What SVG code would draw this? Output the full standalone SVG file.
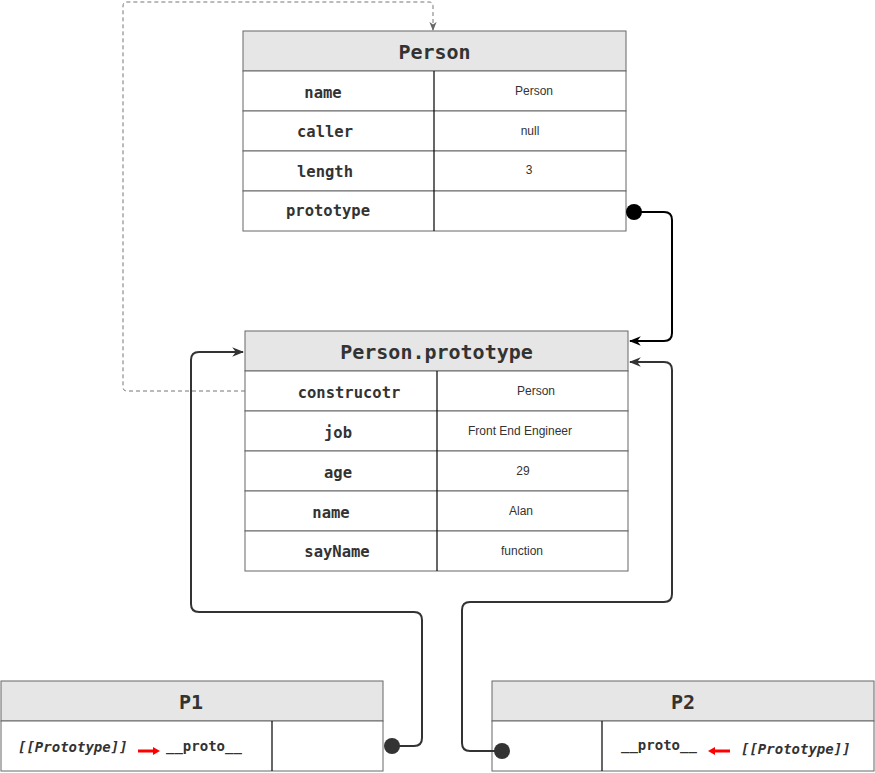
<svg xmlns="http://www.w3.org/2000/svg" width="875" height="773" viewBox="0 0 875 773">
<defs>
<style>
.hdr{fill:#e6e6e6;stroke:#666;stroke-width:1}
.cell{fill:#fff;stroke:#666;stroke-width:1}
.div{stroke:#000;stroke-width:1.2}
.title{font-family:"DejaVu Sans Mono",monospace;font-weight:bold;font-size:20px;fill:#333;text-anchor:middle}
.key{font-family:"DejaVu Sans Mono",monospace;font-weight:bold;font-size:15.5px;fill:#333;text-anchor:middle}
.val{font-family:"Liberation Sans",Arial,sans-serif;font-size:12px;fill:#333;text-anchor:middle}
.it{font-family:"DejaVu Sans Mono",monospace;font-weight:bold;font-style:italic;font-size:14px;fill:#333}
.pr{font-family:"DejaVu Sans Mono",monospace;font-weight:bold;font-size:14px;fill:#333}
.conn{fill:none;stroke:#333;stroke-width:2}
</style>
<marker id="arr" viewBox="0 0 10 10" refX="9" refY="5" markerWidth="6" markerHeight="6" orient="auto" markerUnits="strokeWidth">
<path d="M0,1 L10,5 L0,9 L3,5 z" fill="#333"/>
</marker>
<marker id="arrB" viewBox="0 0 10 10" refX="9" refY="5" markerWidth="6" markerHeight="6" orient="auto" markerUnits="strokeWidth">
<path d="M0,1 L10,5 L0,9 L3,5 z" fill="#000"/>
</marker>
<marker id="arrD" viewBox="0 0 10 10" refX="9" refY="5" markerWidth="9" markerHeight="9" orient="auto" markerUnits="strokeWidth">
<path d="M0,1 L10,5 L0,9 L3,5 z" fill="#666"/>
</marker>
</defs>

<g id="person">
<rect class="hdr" x="243" y="31" width="383" height="40"/>
<rect class="cell" x="243" y="71" width="383" height="40"/>
<rect class="cell" x="243" y="111" width="383" height="40"/>
<rect class="cell" x="243" y="151" width="383" height="40"/>
<rect class="cell" x="243" y="191" width="383" height="40"/>
<line class="div" x1="434" y1="71" x2="434" y2="231"/>
<text class="title" x="434.5" y="59">Person</text>
<text class="key" x="323" y="98">name</text>
<text class="key" x="325" y="137">caller</text>
<text class="key" x="325" y="177">length</text>
<text class="key" x="328" y="216">prototype</text>
<text class="val" x="534" y="95">Person</text>
<text class="val" x="530" y="135">null</text>
<text class="val" x="529" y="174">3</text>
</g>

<g id="person-prototype">
<rect class="hdr" x="245" y="331" width="383" height="40"/>
<rect class="cell" x="245" y="371" width="383" height="40"/>
<rect class="cell" x="245" y="411" width="383" height="40"/>
<rect class="cell" x="245" y="451" width="383" height="40"/>
<rect class="cell" x="245" y="491" width="383" height="40"/>
<rect class="cell" x="245" y="531" width="383" height="40"/>
<line class="div" x1="437" y1="371" x2="437" y2="571"/>
<text class="title" x="436.5" y="359">Person.prototype</text>
<text class="key" x="349" y="398">construcotr</text>
<text class="key" x="338" y="438">job</text>
<text class="key" x="338" y="478">age</text>
<text class="key" x="331" y="518">name</text>
<text class="key" x="337" y="557">sayName</text>
<text class="val" x="536" y="395">Person</text>
<text class="val" x="520" y="435">Front End Engineer</text>
<text class="val" x="523" y="475">29</text>
<text class="val" x="521" y="515">Alan</text>
<text class="val" x="522" y="555">function</text>
</g>

<g id="p1">
<rect class="hdr" x="1" y="681" width="382" height="40"/>
<rect class="cell" x="1" y="721" width="382" height="50"/>
<line class="div" x1="272" y1="721" x2="272" y2="771"/>
<text class="title" x="191" y="709">P1</text>
<text class="it" x="18" y="752">[[Prototype]]</text>
<line x1="138" y1="751" x2="154" y2="751" stroke="#f00" stroke-width="3"/>
<path d="M153,747 L160,751 L153,755 z" fill="#f00"/>
<text class="pr" x="166" y="751">__proto__</text>
</g>

<g id="p2">
<rect class="hdr" x="492" y="681" width="382" height="40"/>
<rect class="cell" x="492" y="721" width="382" height="50"/>
<line class="div" x1="602" y1="721" x2="602" y2="771"/>
<text class="title" x="683" y="709">P2</text>
<text class="pr" x="621" y="750">__proto__</text>
<line x1="714" y1="751" x2="730" y2="751" stroke="#f00" stroke-width="3"/>
<path d="M715,747 L708,751 L715,755 z" fill="#f00"/>
<text class="it" x="741" y="754">[[Prototype]]</text>
</g>

<g id="connectors">
<path d="M245,391 L127,391 Q123,391 123,387 L123,6 Q123,2 127,2 L429,2 Q433,2 433,6 L433,30" fill="none" stroke="#777" stroke-width="1" stroke-dasharray="4,3" marker-end="url(#arrD)"/>
<path d="M634,212 L664,212 Q672,212 672,220 L672,333 Q672,341 664,341 L630,341" fill="none" stroke="#000" stroke-width="2" marker-end="url(#arrB)"/>
<circle cx="634" cy="212" r="8" fill="#000"/>
<path d="M392,746 L414,746 Q422,746 422,738 L422,620 Q422,612 414,612 L199,612 Q191,612 191,604 L191,360 Q191,352 199,352 L243,352" class="conn" marker-end="url(#arr)"/>
<circle cx="392" cy="746" r="8" fill="#333"/>
<path d="M502,751 L470,751 Q462,751 462,743 L462,610 Q462,602 470,602 L664,602 Q672,602 672,594 L672,370 Q672,362 664,362 L630,362" class="conn" marker-end="url(#arr)"/>
<circle cx="502" cy="751" r="8" fill="#333"/>
</g>
</svg>
